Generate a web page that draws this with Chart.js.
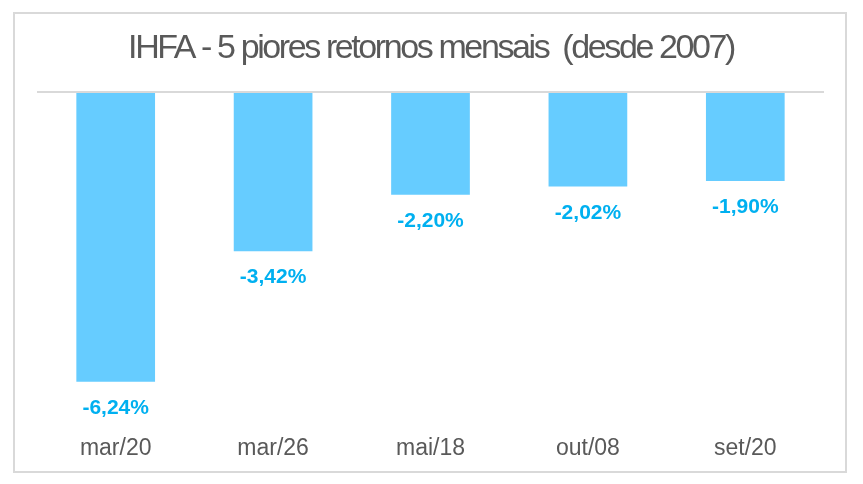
<!DOCTYPE html>
<html>
<head>
<meta charset="utf-8">
<script src="https://cdn.jsdelivr.net/npm/chart.js@4"></script>
<style>
  html, body { margin: 0; padding: 0; background: #ffffff; }
  #wrap { width: 863px; height: 484px; position: relative; }
</style>
</head>
<body>
<div id="wrap"><canvas id="c" width="863" height="484"></canvas></div>
<script>
const titleText = 'IHFA - 5 piores retornos mensais  (desde 2007)';
const categories = ['mar/20', 'mar/26', 'mai/18', 'out/08', 'set/20'];
const returnsPct = [-6.24, -3.42, -2.20, -2.02, -1.90];
const valueLabels = ['-6,24%', '-3,42%', '-2,20%', '-2,02%', '-1,90%'];

const frameTitleBaseline = {
  id: 'frameTitleBaseline',
  beforeDraw(chart) {
    const ctx = chart.ctx;
    ctx.save();
    ctx.fillStyle = '#ffffff';
    ctx.fillRect(0, 0, chart.width, chart.height);
    ctx.strokeStyle = '#D9D9D9';
    ctx.lineWidth = 2;
    ctx.strokeRect(14, 13, 832, 459);
    // title
    ctx.letterSpacing = '-2.4px';
    ctx.font = '34px "Liberation Sans", Arial, sans-serif';
    ctx.fillStyle = '#595959';
    ctx.textAlign = 'center';
    ctx.textBaseline = 'alphabetic';
    ctx.fillText(titleText, 431, 58);
    ctx.letterSpacing = '0px';
    ctx.restore();
  },
  beforeDatasetsDraw(chart) {
    const ctx = chart.ctx;
    const a = chart.chartArea;
    const y0 = chart.scales.y.getPixelForValue(0);
    ctx.save();
    ctx.strokeStyle = '#D9D9D9';
    ctx.lineWidth = 2;
    ctx.beginPath();
    ctx.moveTo(a.left, y0 - 1);
    ctx.lineTo(a.right, y0 - 1);
    ctx.stroke();
    ctx.restore();
  },
  afterDatasetsDraw(chart) {
    const ctx = chart.ctx;
    const meta = chart.getDatasetMeta(0);
    ctx.save();
    ctx.font = 'bold 21px "Liberation Sans", Arial, sans-serif';
    ctx.fillStyle = '#00B0F0';
    ctx.textAlign = 'center';
    ctx.textBaseline = 'alphabetic';
    meta.data.forEach((bar, i) => {
      ctx.fillText(valueLabels[i], bar.x, bar.y + 32);
    });
    ctx.restore();
  }
};

new Chart(document.getElementById('c'), {
  type: 'bar',
  data: {
    labels: categories,
    datasets: [{
      data: returnsPct,
      backgroundColor: '#66CCFF',
      borderWidth: 0,
      categoryPercentage: 1.0,
      barPercentage: 0.5
    }]
  },
  options: {
    responsive: false,
    animation: false,
    layout: { padding: { left: 37, right: 39, top: 93, bottom: 19 } },
    plugins: {
      legend: { display: false },
      tooltip: { enabled: false },
      title: { display: false }
    },
    scales: {
      x: {
        grid: { display: false, drawTicks: false },
        border: { display: false },
        ticks: {
          color: '#595959',
          font: { family: '"Liberation Sans", Arial, sans-serif', size: 23, lineHeight: 1.2 },
          padding: 3
        }
      },
      y: {
        display: false,
        min: -7.31,
        max: 0
      }
    }
  },
  plugins: [frameTitleBaseline]
});
</script>
</body>
</html>
